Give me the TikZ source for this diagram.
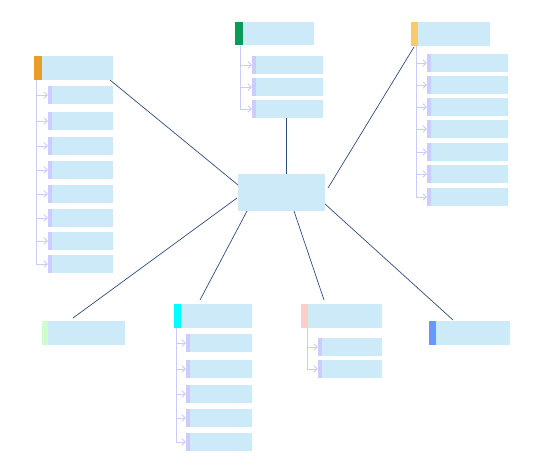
\documentclass[tikz,border=0pt]{standalone}
\usetikzlibrary{arrows.meta}
\definecolor{boxblue}{HTML}{CDEAF9}
\definecolor{barpurple}{HTML}{CCCCFF}
\definecolor{treeline}{HTML}{C8CCFA}
\definecolor{linkblue}{HTML}{2E4D7B}
\definecolor{corange}{HTML}{E89E24}
\definecolor{cgreen}{HTML}{0A9B57}
\definecolor{cyellow}{HTML}{FBC96A}
\definecolor{ccyan}{HTML}{00FFFF}
\definecolor{cpink}{HTML}{FFCCCC}
\definecolor{cblue}{HTML}{6699FF}
\definecolor{clgreen}{HTML}{CCFFCC}
\begin{document}
\begin{tikzpicture}[x=1pt,y=-1pt,
  hdr/.style={fill=boxblue, draw=none, inner sep=0pt, outer sep=0pt, anchor=north west, minimum width=#1, minimum height=24pt},
  kid/.style={fill=boxblue, draw=none, inner sep=0pt, outer sep=0pt, anchor=north west, minimum width=#1, minimum height=18pt},
  hbar/.style={fill=#1, draw=none, inner sep=0pt, outer sep=0pt, anchor=north west, minimum width=7pt, minimum height=24pt},
  kbar/.style={fill=barpurple, draw=none, inner sep=0pt, outer sep=0pt, anchor=north west, minimum width=4pt, minimum height=18pt},
  tree/.style={draw=treeline, line width=0.9pt},
  treearrow/.style={draw=treeline, line width=0.9pt, -{Straight Barb[length=3.5pt,width=6.5pt]}},
  link/.style={draw=linkblue, line width=0.7pt}
]
\useasboundingbox (0,0) rectangle (549,469);

% connectors
\coordinate (oA) at (110,80);  \coordinate (oB) at (238,185);
\coordinate (gA) at (286,118); \coordinate (gB) at (286,174);
\coordinate (yA) at (414,47);  \coordinate (yB) at (328,188);
\coordinate (lA) at (73,318);  \coordinate (lB) at (237,198);
\coordinate (cA) at (200,300); \coordinate (cB) at (247,211);
\coordinate (pA) at (324,300); \coordinate (pB) at (294,211);
\coordinate (bA) at (453,320); \coordinate (bB) at (325,204);
\foreach \a/\b in {oA/oB,gA/gB,yA/yB,lA/lB,cA/cB,pA/pB,bA/bB}
  \draw[link] (\a) -- (\b);

% center
\node[fill=boxblue, inner sep=0pt, anchor=north west, minimum width=87pt, minimum height=37pt] (ctr) at (238,174) {};

% orange group
\draw[tree] (36,80) -- (36,264);
\node[hdr=79pt] (oh) at (34,56) {};
\node[hbar=corange, minimum width=8pt] (ohb) at (34,56) {};
\foreach \t [count=\i] in {86,112,137,161,185,209,232,255}{
  \node[kid=65pt] (ok\i) at (48,\t) {};
  \node[kbar] (okb\i) at (48,\t) {};
  \draw[treearrow] (36,\t+9) -- (okb\i.west);
}

% green group
\draw[tree] (240,46) -- (240,109);
\node[hdr=79pt, minimum height=23pt] (gh) at (235,22) {};
\node[hbar=cgreen, minimum width=8pt, minimum height=23pt] (ghb) at (235,22) {};
\foreach \t [count=\i] in {56,78,100}{
  \node[kid=71pt] (gk\i) at (252,\t) {};
  \node[kbar] (gkb\i) at (252,\t) {};
  \draw[treearrow] (240,\t+9) -- (gkb\i.west);
}

% yellow group
\draw[tree] (416,46) -- (416,197);
\node[hdr=79pt] (yh) at (411,22) {};
\node[hbar=cyellow] (yhb) at (411,22) {};
\foreach \t [count=\i] in {54,76,98,120,143,165,188}{
  \node[kid=81pt] (yk\i) at (427,\t) {};
  \node[kbar] (ykb\i) at (427,\t) {};
  \draw[treearrow] (416,\t+9) -- (ykb\i.west);
}

% light green
\node[hdr=83pt] (lh) at (42,321) {};
\node[hbar=clgreen, minimum width=6pt] (lhb) at (42,321) {};

% cyan group
\draw[tree] (176,328) -- (176,442);
\node[hdr=78pt] (ch) at (174,304) {};
\node[hbar=ccyan] (chb) at (174,304) {};
\foreach \t [count=\i] in {334,360,385,409,433}{
  \node[kid=66pt] (ck\i) at (186,\t) {};
  \node[kbar] (ckb\i) at (186,\t) {};
  \draw[treearrow] (176,\t+9) -- (ckb\i.west);
}

% pink group
\draw[tree] (307,328) -- (307,369);
\node[hdr=81pt] (ph) at (301,304) {};
\node[hbar=cpink] (phb) at (301,304) {};
\foreach \t [count=\i] in {338,360}{
  \node[kid=64pt] (pk\i) at (318,\t) {};
  \node[kbar] (pkb\i) at (318,\t) {};
  \draw[treearrow] (307,\t+9) -- (pkb\i.west);
}

% blue
\node[hdr=81pt] (bh) at (429,321) {};
\node[hbar=cblue] (bhb) at (429,321) {};
\end{tikzpicture}
\end{document}
